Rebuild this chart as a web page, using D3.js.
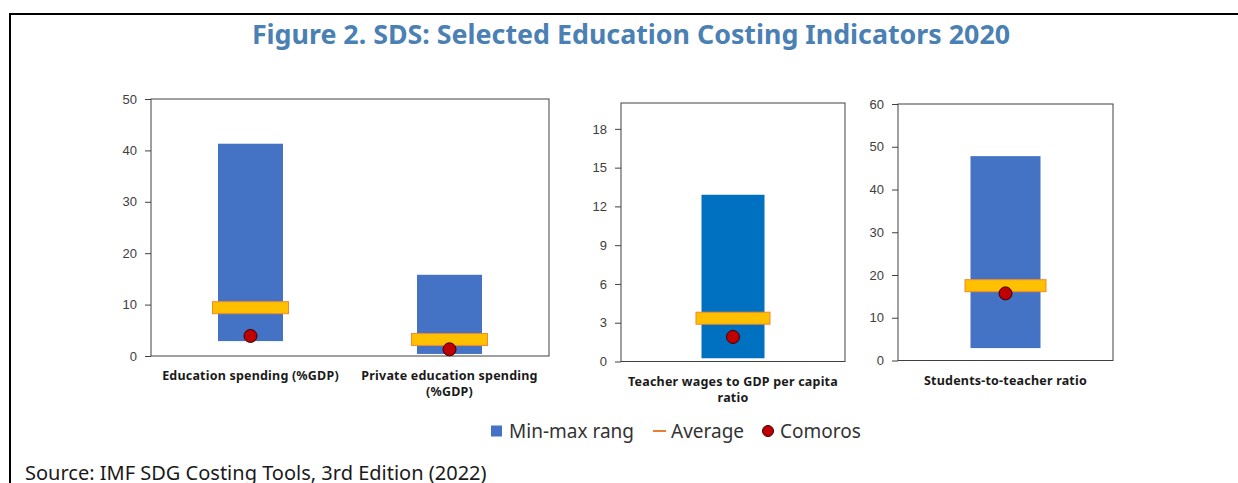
<!DOCTYPE html>
<html>
<head>
<meta charset="utf-8">
<script src="https://cdn.jsdelivr.net/npm/d3@7"></script>
<style>
  body { margin: 0; background: #fff; }
  svg { display: block; font-family: "Noto Sans", "Open Sans", sans-serif; }
  .tick text { fill: #404040; font-size: 13px; }
  .cat-label { font-size: 12.5px; font-weight: bold; fill: #1a1a1a; letter-spacing: 0.2px; }
  .legend-label { font-size: 19px; fill: #333; }
</style>
</head>
<body>
<svg id="chart" width="1238" height="483"></svg>
<script>
// data
const categories = [
  ["Education spending (%GDP)"],
  ["Private education spending", "(%GDP)"],
  ["Teacher wages to GDP per capita", "ratio"],
  ["Students-to-teacher ratio"]
];
const minValues = [2.9, 0.4, 0.25, 2.9];
const maxValues = [41.3, 15.8, 12.9, 47.8];
const averageValues = [9.4, 3.2, 3.35, 17.5];
const comorosValues = [3.9, 1.3, 1.9, 15.7];
const legendLabels = ["Min-max rang", "Average", "Comoros"];

// panel layout: which categories, axis domain, ticks, box
const panels = [
  { idx: [0, 1], domain: [0, 50], ticks: [0, 10, 20, 30, 40, 50], x0: 151, x1: 549, y0: 99, y1: 356, barW: 65, color: "#4472c4" },
  { idx: [2], domain: [0, 20], ticks: [0, 3, 6, 9, 12, 15, 18], x0: 621, x1: 845, y0: 103, y1: 361.5, barW: 63, color: "#0070c0" },
  { idx: [3], domain: [0, 60], ticks: [0, 10, 20, 30, 40, 50, 60], x0: 898, x1: 1113, y0: 104, y1: 360.5, barW: 70, color: "#4472c4" }
];

const svg = d3.select("#chart");

// frame
svg.append("path")
  .attr("d", "M10,483 V14 H1238")
  .attr("fill", "none")
  .attr("stroke", "#000")
  .attr("stroke-width", 2);

svg.append("text")
  .attr("x", 631)
  .attr("y", 44)
  .attr("text-anchor", "middle")
  .attr("font-size", 26.8)
  .attr("font-weight", "bold")
  .attr("fill", "#4a80b4")
  .text("Figure 2. SDS: Selected Education Costing Indicators 2020");

panels.forEach((p) => {
  const x = d3.scaleBand()
    .domain(p.idx)
    .range([p.x0, p.x1]);
  const y = d3.scaleLinear()
    .domain(p.domain)
    .range([p.y1, p.y0]);

  const g = svg.append("g");

  // plot box
  g.append("rect")
    .attr("x", p.x0)
    .attr("y", p.y0)
    .attr("width", p.x1 - p.x0)
    .attr("height", p.y1 - p.y0)
    .attr("fill", "none")
    .attr("stroke", "#404040")
    .attr("stroke-width", 1);

  g.append("g")
    .attr("transform", `translate(${p.x0},0)`)
    .call(d3.axisLeft(y).tickValues(p.ticks).tickSize(6).tickPadding(8))
    .call((a) => a.select(".domain").remove())
    .call((a) => a.selectAll(".tick line").attr("stroke", "#404040"));

  const cx = (i) => x(i) + x.bandwidth() / 2;

  // min-max bars
  g.selectAll(".bar")
    .data(p.idx)
    .join("rect")
    .attr("class", "bar")
    .attr("x", (i) => cx(i) - p.barW / 2)
    .attr("width", p.barW)
    .attr("y", (i) => y(maxValues[i]))
    .attr("height", (i) => y(minValues[i]) - y(maxValues[i]))
    .attr("fill", p.color);

  // average markers
  g.selectAll(".avg")
    .data(p.idx)
    .join("rect")
    .attr("class", "avg")
    .attr("x", (i) => cx(i) - p.barW / 2 - 5.5)
    .attr("width", p.barW + 11)
    .attr("y", (i) => y(averageValues[i]) - 6)
    .attr("height", 12)
    .attr("fill", "#ffc000")
    .attr("stroke", "#f4872f")
    .attr("stroke-width", 1);

  // Comoros
  g.selectAll(".dot")
    .data(p.idx)
    .join("circle")
    .attr("class", "dot")
    .attr("cx", (i) => cx(i))
    .attr("cy", (i) => y(comorosValues[i]))
    .attr("r", 6.5)
    .attr("fill", "#c00000")
    .attr("stroke", "#3a0000")
    .attr("stroke-width", 1);

  // category labels
  p.idx.forEach((i) => {
    const t = g.append("text")
      .attr("class", "cat-label")
      .attr("text-anchor", "middle")
      .attr("x", cx(i))
      .attr("y", p.y1 + 24);
    categories[i].forEach((line, k) => {
      t.append("tspan")
        .attr("x", cx(i))
        .attr("dy", k === 0 ? 0 : 16)
        .text(line);
    });
  });
});

// legend
const legend = svg.append("g").attr("transform", "translate(0,431)");
legend.append("rect")
  .attr("x", 491).attr("y", -5.5)
  .attr("width", 11).attr("height", 11)
  .attr("fill", "#4472c4");
legend.append("text")
  .attr("class", "legend-label")
  .attr("x", 509).attr("dy", "0.35em")
  .text(legendLabels[0]);
legend.append("line")
  .attr("x1", 653).attr("x2", 666)
  .attr("stroke", "#ed7d31")
  .attr("stroke-width", 2);
legend.append("text")
  .attr("class", "legend-label")
  .attr("x", 671).attr("dy", "0.35em")
  .text(legendLabels[1]);
legend.append("circle")
  .attr("cx", 768).attr("r", 5.5)
  .attr("fill", "#c00000")
  .attr("stroke", "#3a0000");
legend.append("text")
  .attr("class", "legend-label")
  .attr("x", 780).attr("dy", "0.35em")
  .text(legendLabels[2]);

svg.append("text")
  .attr("x", 25)
  .attr("y", 480)
  .attr("font-size", 20)
  .attr("fill", "#1a1a1a")
  .text("Source: IMF SDG Costing Tools, 3rd Edition (2022)");
</script>
</body>
</html>
